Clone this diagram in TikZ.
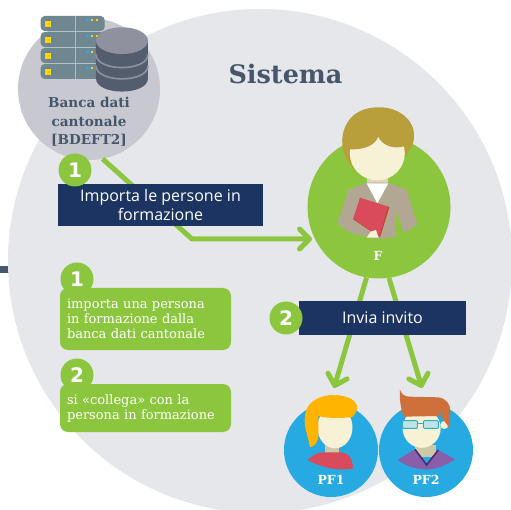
\documentclass[tikz,border=0pt]{standalone}
\usepackage{fontspec}
\usetikzlibrary{arrows.meta}
\setmainfont{DejaVu Serif}
\newfontfamily\opensans{Open Sans}
\newfontfamily\badgefont{DejaVu Sans}
\definecolor{biggray}{HTML}{E6E7EB}
\definecolor{bankgray}{HTML}{C7C8D0}
\definecolor{slate}{HTML}{46566B}
\definecolor{navy}{HTML}{1C3461}
\definecolor{leaf}{HTML}{8CC63F}
\definecolor{sky}{HTML}{27AAE1}
\definecolor{skin}{HTML}{F7F2D6}
\definecolor{neckc}{HTML}{CFC8A8}
\definecolor{rosso}{HTML}{D94A5A}
\definecolor{rack}{HTML}{6F8791}
\definecolor{rackline}{HTML}{A9BAC0}
\definecolor{dbdark}{HTML}{535D6E}
\definecolor{dblight}{HTML}{8F919E}
\definecolor{hairF}{HTML}{B89F3C}
\definecolor{jacket}{HTML}{B2A792}
\definecolor{neckF}{HTML}{E0D8B4}
\definecolor{bookedge}{HTML}{B8431F}
\definecolor{hairA}{HTML}{FFB400}
\definecolor{hairB}{HTML}{CF6F3A}
\definecolor{shirtB}{HTML}{8A5EA8}
\definecolor{collar}{HTML}{4D2A70}
\definecolor{lensfill}{HTML}{BFE3E8}
\definecolor{lensline}{HTML}{2FB0B8}
\definecolor{ledY}{HTML}{FFD400}
\definecolor{ledB}{HTML}{27AAE1}
\tikzset{
  x=1pt,y=-1pt,
  bubble/.style={circle,inner sep=0pt,minimum size=#1},
  slabtext/.style={font=\bfseries\fontsize{13.6}{18.5}\selectfont,text=slate,align=center,inner sep=0pt},
  navybox/.style={fill=navy,text=white,align=center,inner sep=0pt,font=\opensans\fontsize{16}{19.5}\selectfont},
  badge/.style={bubble=33pt,fill=leaf,text=white,font=\badgefont\bfseries\fontsize{20}{20}\selectfont},
  legendbox/.style={fill=leaf,rounded corners=8pt,text=white,align=left,inner sep=0pt,minimum width=171pt,text width=157pt,font=\fontsize{13}{15}\selectfont},
  pflabel/.style={text=white,inner sep=0pt,font=\bfseries\fontsize{12.5}{14}\selectfont},
  flow/.style={draw=leaf,line width=5pt,line join=miter},
  tip/.style={-{Straight Barb[length=10pt,width=20pt,line cap=round,round]}},
  zoomA/.style={shift={(300,90)},x=0.3333pt,y=-0.3333pt},
  zoomB/.style={shift={(270,290)},x=0.3333pt,y=-0.3333pt},
  zoomC/.style={x=0.3333pt,y=-0.3333pt},
  glass/.style={fill=lensfill,draw=lensline,line width=0.9pt,rounded corners=1pt},
}
\begin{document}
\begin{tikzpicture}
\useasboundingbox (0,0) rectangle (511,510);
\fill[white] (0,0) rectangle (511,510);
\fill[slate] (0,266) rectangle (12,273);
\begin{scope}
\clip (0,0) rectangle (511,510);
\node[bubble=504pt,fill=biggray] (sistema) at (260,261) {};
\end{scope}
\node[bubble=143pt,fill=leaf] (F) at (379,207) {};
\node[bubble=142pt,fill=bankgray] (bank) at (89,89) {};
\node[bubble=94pt,fill=sky] (pf1) at (331,450) {};
\node[bubble=94pt,fill=sky] (pf2) at (426,450) {};
% connectors
\coordinate (bend) at (192,239);
\coordinate (ftip) at (312,239);
\coordinate (tip1) at (334,388);
\coordinate (tip2) at (422,388);
\draw[flow,tip] (bank.-79) -- (bend) -- (ftip);
\draw[flow,tip] (F.-100) -- (tip1);
\draw[flow,tip] (F.-82) -- (tip2);
% servers
\begin{scope}[zoomC]
\foreach \y in {48,96,144,192}{
  \fill[rack,rounded corners=4pt] (122,\y) rectangle (314,\y+45);
  \fill[rackline] (226,\y) rectangle (227.5,\y+45);
  \fill[ledY] (135,\y+15) rectangle (153,\y+33);
  \fill[ledB] (259,\y+8) rectangle (266,\y+15);
  \fill[ledY] (273,\y+8) rectangle (280,\y+15);
  \fill[ledY] (288,\y+8) rectangle (295,\y+15);
}
% database
\fill[dbdark] (288,122) -- (288,235) .. controls (288,288) and (444,288) .. (444,235) -- (444,122) -- cycle;
\draw[dblight,line width=1.6pt] (288,163) .. controls (288,216) and (444,216) .. (444,163);
\draw[dblight,line width=1.6pt] (288,197) .. controls (288,250) and (444,250) .. (444,197);
\fill[dblight] (366,122) ellipse [x radius=26pt,y radius=13.4pt];
\end{scope}
% teacher
\begin{scope}[zoomA]
\fill[neckF] (200,255) rectangle (265,295);
\fill[jacket] (113,400) -- (145,300) -- (200,278) -- (265,278) -- (320,300) -- (352,403) -- (312,430) -- (290,360) -- (285,442) -- (235,447) -- (150,428) -- cycle;
\fill[white] (200,280) -- (265,280) -- (232,340) -- cycle;
\fill[bookedge] (182,326) -- (268,352) -- (240,442) -- (160,388) -- cycle;
\fill[rosso] (180,323) -- (265,350) -- (238,440) -- (160,385) -- cycle;
\fill[skin] (200,443) -- (212,425) -- (228,420) -- (236,443) -- cycle;
\fill[hairF] (165,240) .. controls (135,215) and (122,175) .. (128,135)
  .. controls (140,75) and (185,52) .. (235,52) .. controls (295,50) and (345,90) .. (342,140)
  .. controls (342,170) and (325,180) .. (318,200) -- (150,220) -- cycle;
\fill[skin] (232,190) ellipse [x radius=27.5pt,y radius=27pt];
\fill[hairF] (148,178) .. controls (195,180) and (225,165) .. (235,140)
  .. controls (245,165) and (280,180) .. (316,168) -- (335,120) -- (230,80) -- (135,120) -- cycle;
\end{scope}
% PF1
\begin{scope}[zoomB]
\fill[neckc] (165,455) rectangle (207,495);
\fill[rosso] (112,510) .. controls (125,500) and (140,487) .. (160,487) -- (215,487)
  .. controls (235,490) and (245,500) .. (250,535) .. controls (200,545) and (150,530) .. (112,510) -- cycle;
\fill[skin] (195,412) ellipse [x radius=17.5pt,y radius=21pt];
\fill[skin] (135,415) circle [radius=4pt];
\fill[hairA] (120,472) .. controls (112,430) and (100,410) .. (105,375)
  .. controls (110,335) and (150,315) .. (190,315) .. controls (230,315) and (262,330) .. (262,355)
  .. controls (255,375) and (250,382) .. (240,382) .. controls (205,385) and (170,385) .. (145,378)
  -- (145,445) .. controls (140,462) and (130,470) .. (120,472) -- cycle;
\end{scope}
% PF2
\begin{scope}[zoomB]
\fill[neckc] (435,465) rectangle (497,500);
\fill[shirtB] (383,510) -- (435,478) -- (470,525) -- (505,480) -- (555,508) .. controls (520,530) and (500,538) .. (470,538) .. controls (440,538) and (410,530) .. (383,510) -- cycle;
\draw[collar,line width=1.6pt] (435,478) -- (470,525) -- (505,480);
\fill[skin] (523,405) circle [radius=4pt];
\fill[skin] (455,415) ellipse [x radius=19pt,y radius=19.5pt];
\fill[hairB] (390,300) .. controls (395,312) and (402,318) .. (415,320) -- (505,322)
  .. controls (530,325) and (542,345) .. (541,365) -- (537,412) .. controls (525,395) and (512,385) .. (510,358)
  -- (510,378) -- (400,380) .. controls (392,350) and (388,330) .. (390,300) -- cycle;
\draw[glass] (398,392) rectangle (442,415);
\draw[glass] (460,392) rectangle (505,415);
\draw[lensline,line width=0.9pt] (442,400) -- (460,400);
\end{scope}
% labels
\node[text=slate,inner sep=0pt,font=\bfseries\fontsize{25.5}{28}\selectfont] (title) at (285.5,74) {Sistema};
\node[slabtext] (banklabel) at (89,122) {Banca dati\\cantonale\\{[BDEFT2]}};
\node[pflabel] (flabel) at (378,256) {F};
\node[pflabel] (pf1label) at (331,480) {PF1};
\node[pflabel] (pf2label) at (426,480) {PF2};
% steps
\node[navybox,minimum width=205pt,minimum height=42pt] (step1) at (160.5,205) {Importa le persone in\\formazione};
\node[navybox,minimum width=167pt,minimum height=34pt] (step2) at (382.5,318) {Invia invito};
\node[badge] (b1) at (75,170) {1};
\node[badge] (b2) at (286,318) {2};
% legend
\node[badge] (l1) at (77,279) {1};
\node[badge] (l2) at (77,375) {2};
\node[legendbox,minimum height=62pt] (leg1) at (145.5,319) {importa una persona\\in formazione dalla\\banca dati cantonale};
\node[legendbox,minimum height=48pt] (leg2) at (145.5,408) {si «collega» con la\\persona in formazione};
\end{tikzpicture}
\end{document}
